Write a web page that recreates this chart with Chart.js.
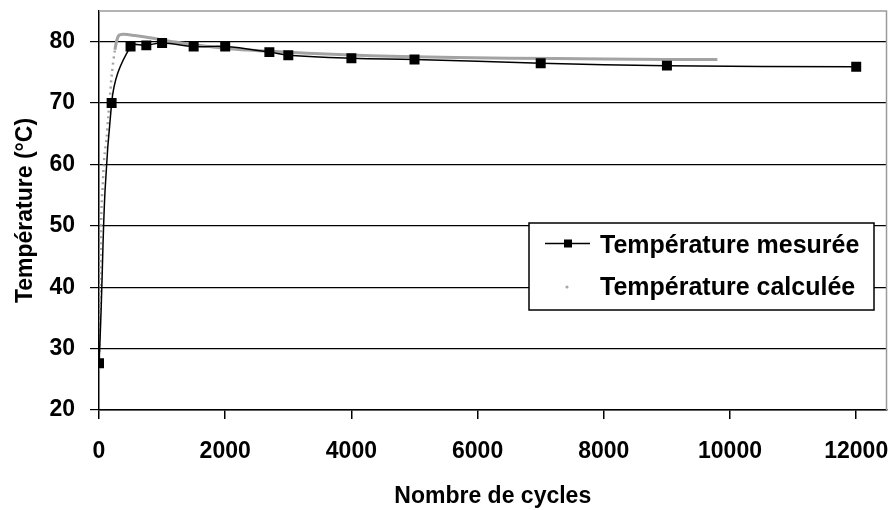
<!DOCTYPE html>
<html>
<head>
<meta charset="utf-8">
<script src="https://cdn.jsdelivr.net/npm/chart.js@4.4.0/dist/chart.umd.min.js"></script>
<style>
    html, body { margin: 0; padding: 0; background: #fff; }
</style>
</head>
<body>
<canvas id="tempChart" width="894" height="510"></canvas>
<script>
// Température mesurée (carrés noirs)
var cyclesMesure = [0, 200, 500, 750, 1000, 1500, 2000, 2700, 3000, 4000, 5000, 7000, 9000, 12000];
var tempMesure = [27.6, 70.0, 79.2, 79.4, 79.8, 79.2, 79.2, 78.3, 77.8, 77.3, 77.1, 76.5, 76.1, 75.9];

// Température calculée (courbe grise)
var cyclesCalcule = [0, 8, 14, 18, 28, 42, 60, 72, 90, 121, 147, 174, 200, 253, 305, 385, 570, 833, 1090, 1307, 2000, 2800, 3800, 4800, 6500, 8000, 9000, 9800];
var tempCalcule = [26.5, 32.2, 37.5, 42.0, 46.6, 53.7, 56.7, 59.4, 61.8, 64.3, 67.8, 71.1, 74.4, 78.7, 80.9, 81.2, 81.0, 80.6, 80.1, 79.8, 78.9, 78.4, 77.9, 77.6, 77.3, 77.2, 77.1, 77.1];

var xTicks = [0, 2000, 4000, 6000, 8000, 10000, 12000];
var yTicks = [20, 30, 40, 50, 60, 70, 80];

var FONT = '"Liberation Sans", Arial, sans-serif';

function toPoints(xs, ys) {
    return xs.map(function (x, i) { return { x: x, y: ys[i] }; });
}

// grey top/right frame + legend box inside the plot
var frameAndLegend = {
    id: 'frameAndLegend',
    beforeDatasetsDraw: function (chart) {
        var a = chart.chartArea, ctx = chart.ctx;
        ctx.save();
        ctx.strokeStyle = '#9a9a9a';
        ctx.lineWidth = 1.5;
        ctx.beginPath();
        ctx.moveTo(a.left, a.top);
        ctx.lineTo(a.right, a.top);
        ctx.lineTo(a.right, a.bottom);
        ctx.stroke();
        ctx.restore();
    },
    afterDraw: function (chart) {
        var ctx = chart.ctx;
        var ds = chart.data.datasets;
        ctx.save();
        ctx.fillStyle = '#fff';
        ctx.fillRect(529, 223, 345, 87);
        ctx.strokeStyle = '#000';
        ctx.lineWidth = 1.5;
        ctx.strokeRect(529, 223, 345, 87);

        // measured: line + square
        ctx.beginPath();
        ctx.moveTo(545, 243.5);
        ctx.lineTo(590, 243.5);
        ctx.stroke();
        ctx.fillStyle = '#000';
        ctx.fillRect(564, 239.5, 8, 8);

        // calculated: small grey dot
        ctx.fillStyle = '#a8a8a8';
        ctx.beginPath();
        ctx.arc(567, 287, 1.6, 0, Math.PI * 2);
        ctx.fill();

        ctx.fillStyle = '#000';
        ctx.font = 'bold 25px ' + FONT;
        ctx.textBaseline = 'alphabetic';
        ctx.fillText(ds[1].label, 600, 253);
        ctx.fillText(ds[0].label, 600, 295);
        ctx.restore();
    }
};

var ctx = document.getElementById('tempChart').getContext('2d');
var chart = new Chart(ctx, {
    type: 'scatter',
    data: {
        datasets: [{
            label: 'Température calculée',
            data: toPoints(cyclesCalcule, tempCalcule),
            showLine: true,
            borderColor: '#a3a3a3',
            borderWidth: 3,
            pointRadius: 0,
            tension: 0.3,
            segment: {
                borderDash: function (c) { return c.p1.parsed.x <= 253 ? [2, 4] : undefined; },
                borderWidth: function (c) { return c.p1.parsed.x <= 253 ? 2.5 : 3; }
            },
            order: 2
        }, {
            label: 'Température mesurée',
            data: toPoints(cyclesMesure, tempMesure),
            showLine: true,
            borderColor: '#000',
            borderWidth: 1.5,
            backgroundColor: '#000',
            pointStyle: 'rect',
            pointRadius: 6,
            tension: 0.4,
            order: 1
        }]
    },
    options: {
        responsive: false,
        animation: false,
        devicePixelRatio: 1,
        layout: { padding: { left: 12, right: 6, top: 11, bottom: 0 } },
        plugins: {
            legend: { display: false },
            tooltip: { enabled: false }
        },
        scales: {
            x: {
                type: 'linear',
                min: 0,
                max: 12480,
                afterBuildTicks: function (axis) {
                    axis.ticks = xTicks.map(function (v) { return { value: v }; });
                },
                afterFit: function (axis) {
                    axis.height = 100;
                    axis.paddingLeft = 0;
                    axis.paddingRight = 0;
                },
                grid: { drawOnChartArea: false, color: '#000', tickLength: 9, lineWidth: 1.5 },
                border: { color: '#000', width: 1.5 },
                ticks: {
                    color: '#000',
                    padding: 19,
                    maxRotation: 0,
                    font: { family: FONT, size: 23, weight: 'bold' },
                    callback: function (v) { return String(v); }
                },
                title: {
                    display: true,
                    text: 'Nombre de cycles',
                    color: '#000',
                    font: { family: FONT, size: 23, weight: 'bold' },
                    padding: { top: 17, bottom: 0 }
                }
            },
            y: {
                min: 20,
                max: 85,
                afterBuildTicks: function (axis) {
                    axis.ticks = yTicks.map(function (v) { return { value: v }; });
                },
                afterFit: function (axis) {
                    axis.width = 87;
                    axis.paddingTop = 0;
                    axis.paddingBottom = 0;
                },
                grid: { color: '#000', lineWidth: 1.2, tickLength: 9 },
                border: { color: '#000', width: 1.5 },
                ticks: {
                    color: '#000',
                    padding: 15,
                    font: { family: FONT, size: 23, weight: 'bold' }
                },
                title: {
                    display: true,
                    text: 'Température (°C)',
                    color: '#000',
                    font: { family: FONT, size: 23, weight: 'bold' },
                    padding: { top: 0, bottom: 11 }
                }
            }
        }
    },
    plugins: [frameAndLegend]
});
</script>
</body>
</html>
